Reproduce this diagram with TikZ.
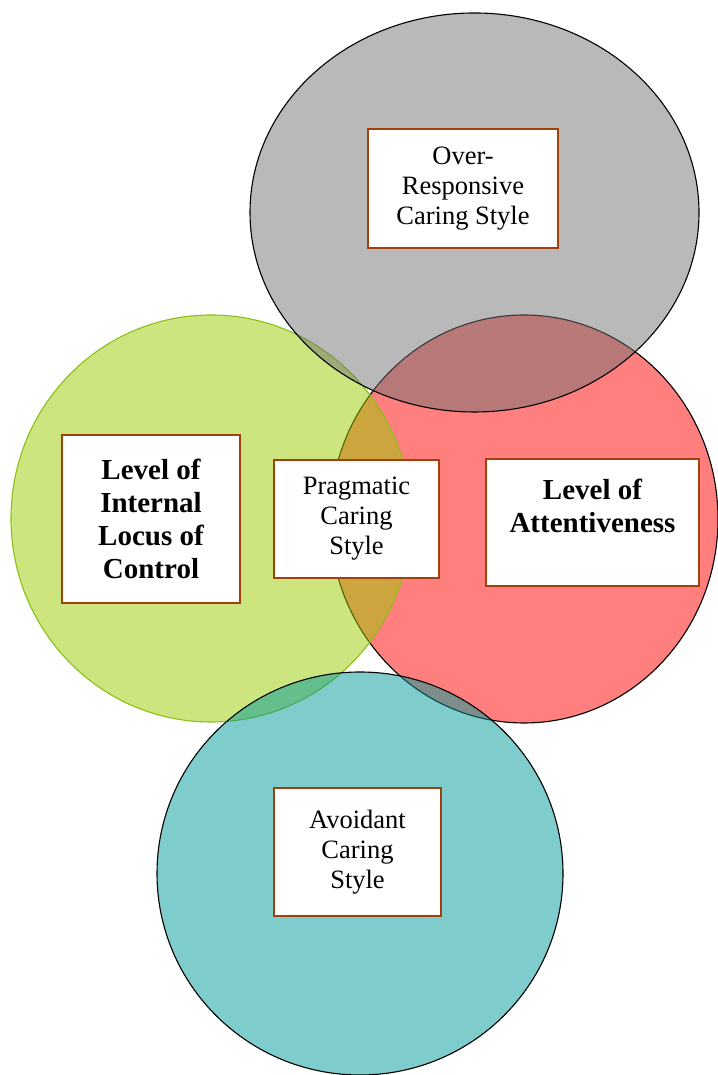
\documentclass[tikz,border=0pt]{standalone}
\usepackage{fontspec}
\setmainfont{Liberation Serif}
\usepackage{tikz}
\usetikzlibrary{positioning}
\definecolor{grayfill}{HTML}{737373}
\definecolor{redfill}{HTML}{FF0000}
\definecolor{greenfill}{HTML}{99CC00}
\definecolor{greenline}{HTML}{8DBF14}
\definecolor{tealfill}{HTML}{009999}
\definecolor{boxline}{HTML}{A0410D}

\begin{document}
\begin{tikzpicture}[x=1pt, y=1pt, line width=1.1pt,
    stylebox/.style={draw=boxline, line width=2.8pt, fill=white, align=center, inner sep=0pt,
        font=\fontsize{26.5}{30}\selectfont},
    levelbox/.style={stylebox, font=\fontsize{29}{33}\selectfont\bfseries}]
                \useasboundingbox (0,0) rectangle (717,1075);
                \draw[fill=redfill, fill opacity=0.5] (524,556) ellipse [x radius=194, y radius=204];
                \draw[greenline, fill=greenfill, fill opacity=0.5] (211,556.5) ellipse [x radius=200, y radius=203.5];
                \draw[fill=grayfill, fill opacity=0.5] (474.5,862.5) ellipse [x radius=224.5, y radius=199.5];
                \draw[fill=tealfill, fill opacity=0.5] (360,201.5) ellipse [x radius=203, y radius=201.5];
                \node[stylebox, minimum width=190, minimum height=119] (ovr) at (463,886.5) {Over-\\Responsive\\Caring Style};
                \node[levelbox, minimum width=178, minimum height=168] (locus) at (151,556) {Level of\\Internal\\Locus of\\Control};
                \node[stylebox, minimum width=165, minimum height=118] (prag) at (356.5,556) {Pragmatic\\Caring\\Style};
                \node[levelbox, minimum width=213, minimum height=127] (attn) at (592.5,552.5) {Level of\\Attentiveness\\~};
                \node[stylebox, minimum width=167, minimum height=128] (avoid) at (357.5,223) {Avoidant\\Caring\\Style};
            \end{tikzpicture}
\end{document}
